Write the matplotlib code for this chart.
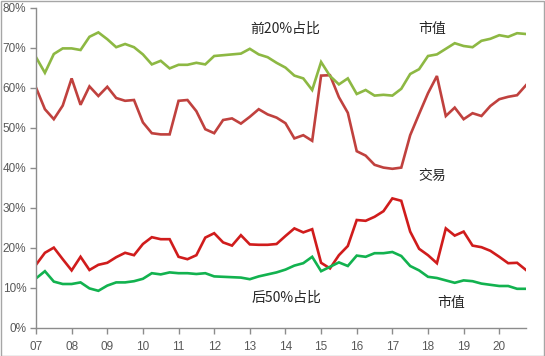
import matplotlib
matplotlib.use("Agg")
import matplotlib.pyplot as plt
from matplotlib.ticker import FuncFormatter, FixedLocator
from matplotlib.patches import Rectangle

# Quarterly data, 2007Q1 .. 2020Q4 (percent)
top20_mktcap = [67.7, 63.8, 68.5, 69.9, 69.9, 69.5, 72.8, 73.9, 72.2, 70.2,
                71.0, 70.2, 68.4, 65.9, 66.8, 64.9, 65.8, 65.8, 66.3, 65.9,
                68.0, 68.2, 68.4, 68.6, 69.8, 68.4, 67.7, 66.3, 65.1, 63.1,
                62.4, 59.5, 66.5, 63.0, 60.9, 62.4, 58.5, 59.5, 58.1, 58.3,
                58.1, 59.8, 63.5, 64.7, 68.0, 68.4, 69.8, 71.2, 70.5, 70.2,
                71.8, 72.3, 73.2, 72.8, 73.7, 73.5]
top20_trade = [60.1, 54.7, 52.2, 55.6, 62.4, 55.8, 60.4, 58.0, 60.3, 57.5,
               56.8, 57.0, 51.4, 48.7, 48.4, 48.4, 56.8, 57.0, 54.2, 49.7,
               48.7, 52.0, 52.4, 51.1, 52.8, 54.7, 53.4, 52.6, 51.2, 47.4,
               48.2, 46.8, 63.1, 63.2, 57.7, 53.8, 44.2, 43.1, 40.8, 40.1,
               39.8, 40.1, 48.2, 53.5, 58.7, 63.0, 53.0, 55.1, 52.2, 53.7,
               53.0, 55.5, 57.2, 57.8, 58.2, 60.7]
bot50_trade = [15.8, 18.8, 20.1, 17.2, 14.4, 17.8, 14.5, 15.8, 16.3, 17.7,
               18.8, 18.2, 21.0, 22.7, 22.2, 22.2, 17.8, 17.2, 18.2, 22.6,
               23.7, 21.4, 20.6, 23.2, 20.9, 20.8, 20.8, 21.0, 23.0, 24.9,
               23.9, 24.7, 16.3, 14.9, 18.2, 20.5, 27.0, 26.8, 27.8, 29.2,
               32.4, 31.8, 24.1, 19.8, 18.2, 16.2, 24.9, 23.1, 24.1, 20.6,
               20.2, 19.3, 17.8, 16.2, 16.3, 14.5]
bot50_mktcap = [12.4, 14.2, 11.6, 11.0, 11.0, 11.4, 9.9, 9.3, 10.6, 11.4,
                11.4, 11.7, 12.3, 13.7, 13.4, 13.9, 13.7, 13.7, 13.5, 13.7,
                12.9, 12.8, 12.7, 12.6, 12.2, 12.9, 13.4, 13.9, 14.6, 15.6,
                16.2, 17.8, 14.2, 15.3, 16.4, 15.5, 18.1, 17.8, 18.7, 18.7,
                19.0, 18.0, 15.5, 14.4, 12.8, 12.5, 11.9, 11.3, 11.9, 11.7,
                11.1, 10.8, 10.5, 10.5, 9.8, 9.8]
year_labels = ["07", "08", "09", "10", "11", "12", "13", "14", "15", "16",
               "17", "18", "19", "20"]
y_ticks = [0, 10, 20, 30, 40, 50, 60, 70, 80]

W, H = 545, 356
fig = plt.figure(figsize=(W / 100, H / 100), dpi=100)
fig.patch.set_facecolor("white")
fig.patches.append(Rectangle((0.5 / W, 0.5 / H), 1 - 1.5 / W, 1 - 1.5 / H,
                             transform=fig.transFigure, fill=False,
                             edgecolor="#A6A6A6", linewidth=1.0))

ax = fig.add_axes([36 / W, (H - 328) / H, (526 - 36) / W, (328 - 8) / H])
x = list(range(len(top20_mktcap)))
lw = 1.9
ax.plot(x, bot50_trade, color="#D01C1C", lw=lw, solid_joinstyle="miter")
ax.plot(x, bot50_mktcap, color="#12B24F", lw=lw, solid_joinstyle="miter")
ax.plot(x, top20_trade, color="#C0413E", lw=lw, solid_joinstyle="miter")
ax.plot(x, top20_mktcap, color="#8DB843", lw=lw, solid_joinstyle="miter")

ax.set_xlim(0, len(x) - 1)
ax.set_ylim(0, 80)
ax.xaxis.set_major_locator(FixedLocator([4 * i for i in range(len(year_labels))]))
ax.set_xticklabels(year_labels)
ax.set_yticks(y_ticks)
ax.yaxis.set_major_formatter(FuncFormatter(lambda v, p: f"{int(round(v))}%"))

for s in ["top", "right"]:
    ax.spines[s].set_visible(False)
for s in ["left", "bottom"]:
    ax.spines[s].set_color("#8C8C8C")
    ax.spines[s].set_linewidth(1.0)
ax.tick_params(axis="both", direction="out", length=4, width=1.0,
               color="#8C8C8C", labelcolor="#595959", labelsize=8.5)
ax.tick_params(axis="x", pad=5)
ax.tick_params(axis="y", pad=3)
for lab in ax.get_xticklabels() + ax.get_yticklabels():
    lab.set_fontfamily(["Liberation Sans", "DejaVu Sans"])

cjk = ["Noto Sans CJK SC", "DejaVu Sans"]
def label(px, py, s):
    fig.text(px / W, 1 - py / H, s, ha="center", va="center",
             fontsize=10, color="#262626", family=cjk)

label(285, 29, "前20%占比")
label(432, 29, "市值")
label(432, 176, "交易")
label(286, 298, "后50%占比")
label(451, 303, "市值")

fig.savefig("out.png", dpi=100)
